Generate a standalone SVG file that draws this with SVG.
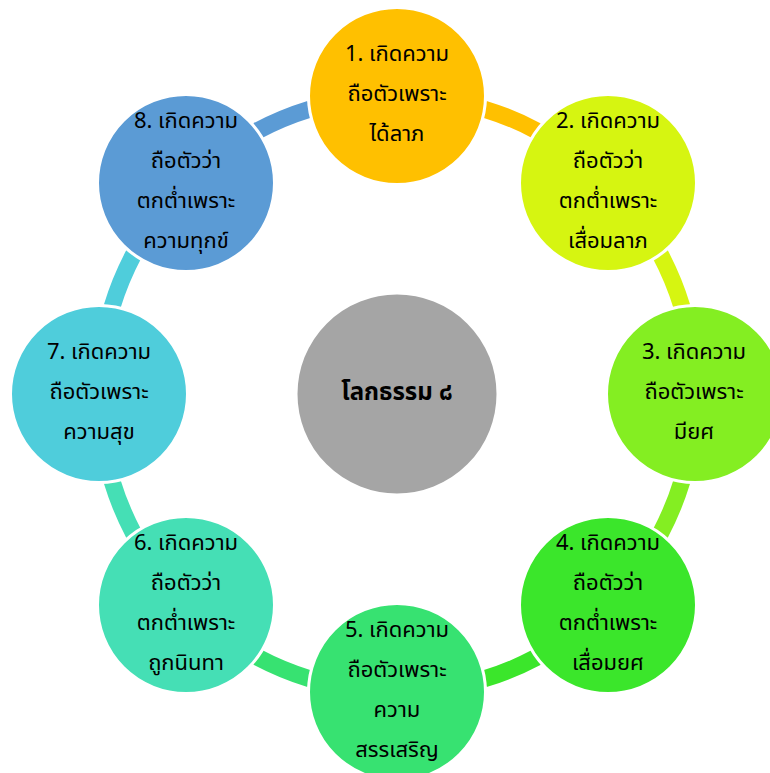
<svg xmlns="http://www.w3.org/2000/svg" width="770" height="773" viewBox="0 0 770 773">
<style>
.arc{fill:none;stroke-width:17;stroke-linecap:butt}
.node{stroke:#ffffff;stroke-width:3}
.t{font-family:"Noto Sans Thai","Noto Sans","DejaVu Sans",sans-serif;font-size:22px;fill:#000000;text-anchor:middle}
.c{font-weight:bold;font-size:24px}
</style>
<rect width="770" height="773" fill="#ffffff"/>
<defs>
<path id="seg" d="M 484.13 109.02 A 298 298 0 0 1 536.90 130.88"/>
</defs>
<g id="connectors">
<use href="#seg" class="arc" stroke="#FFC000"/>
<use href="#seg" class="arc" stroke="#D6F511" transform="rotate(45 397 394)"/>
<use href="#seg" class="arc" stroke="#84EE22" transform="rotate(90 397 394)"/>
<use href="#seg" class="arc" stroke="#3BE62B" transform="rotate(135 397 394)"/>
<use href="#seg" class="arc" stroke="#37E271" transform="rotate(180 397 394)"/>
<use href="#seg" class="arc" stroke="#45DFB5" transform="rotate(225 397 394)"/>
<use href="#seg" class="arc" stroke="#4FCDDB" transform="rotate(270 397 394)"/>
<use href="#seg" class="arc" stroke="#5B9BD5" transform="rotate(315 397 394)"/>
</g>
<g id="center">
<circle class="node" cx="397" cy="394" r="101" fill="#A5A5A5"/>
<text class="t c" x="397" y="400">โลกธรรม ๘</text>
</g>
<g id="n1">
<circle class="node" cx="397" cy="96" r="88.5" fill="#FFC000"/>
<text class="t" x="397" y="61">1. เกิดความ</text>
<text class="t" x="397" y="101">ถือตัวเพราะ</text>
<text class="t" x="397" y="141">ได้ลาภ</text>
</g>
<g id="n2">
<circle class="node" cx="608" cy="183" r="88.5" fill="#D6F511"/>
<text class="t" x="608" y="128">2. เกิดความ</text>
<text class="t" x="608" y="168">ถือตัวว่า</text>
<text class="t" x="608" y="208">ตกต่ำเพราะ</text>
<text class="t" x="608" y="248">เสื่อมลาภ</text>
</g>
<g id="n3">
<circle class="node" cx="695" cy="394" r="88.5" fill="#84EE22"/>
<text class="t" x="694" y="359">3. เกิดความ</text>
<text class="t" x="694" y="399">ถือตัวเพราะ</text>
<text class="t" x="694" y="439">มียศ</text>
</g>
<g id="n4">
<circle class="node" cx="608" cy="605" r="88.5" fill="#3BE62B"/>
<text class="t" x="608" y="550">4. เกิดความ</text>
<text class="t" x="608" y="590">ถือตัวว่า</text>
<text class="t" x="608" y="630">ตกต่ำเพราะ</text>
<text class="t" x="608" y="670">เสื่อมยศ</text>
</g>
<g id="n5">
<circle class="node" cx="397" cy="692" r="88.5" fill="#37E271"/>
<text class="t" x="397" y="637">5. เกิดความ</text>
<text class="t" x="397" y="677">ถือตัวเพราะ</text>
<text class="t" x="397" y="717">ความ</text>
<text class="t" x="397" y="757">สรรเสริญ</text>
</g>
<g id="n6">
<circle class="node" cx="186" cy="605" r="88.5" fill="#45DFB5"/>
<text class="t" x="186" y="550">6. เกิดความ</text>
<text class="t" x="186" y="590">ถือตัวว่า</text>
<text class="t" x="186" y="630">ตกต่ำเพราะ</text>
<text class="t" x="186" y="670">ถูกนินทา</text>
</g>
<g id="n7">
<circle class="node" cx="99" cy="394" r="88.5" fill="#4FCDDB"/>
<text class="t" x="99" y="359">7. เกิดความ</text>
<text class="t" x="99" y="399">ถือตัวเพราะ</text>
<text class="t" x="99" y="439">ความสุข</text>
</g>
<g id="n8">
<circle class="node" cx="186" cy="183" r="88.5" fill="#5B9BD5"/>
<text class="t" x="186" y="128">8. เกิดความ</text>
<text class="t" x="186" y="168">ถือตัวว่า</text>
<text class="t" x="186" y="208">ตกต่ำเพราะ</text>
<text class="t" x="186" y="248">ความทุกข์</text>
</g>
</svg>
